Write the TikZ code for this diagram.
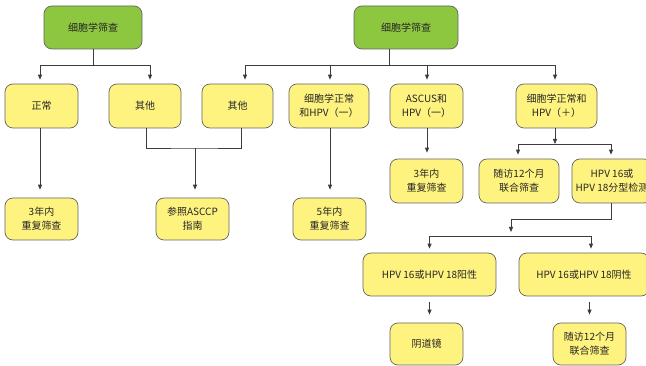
\documentclass[tikz,border=0pt]{standalone}
\usepackage{fontspec}
\setmainfont{Noto Sans CJK SC}
\usetikzlibrary{arrows.meta,calc}
\definecolor{boxgreen}{RGB}{141,198,63}
\definecolor{boxyellow}{RGB}{255,243,128}
\definecolor{edge}{RGB}{100,100,100}
\definecolor{linec}{RGB}{60,60,60}
\tikzset{
  x=1pt,y=-1pt,
  base/.style={draw=edge,line width=0.7pt,rounded corners=8pt,align=center,inner sep=0pt,
    font=\fontsize{10}{14}\selectfont,text=black!85},
  gbox/.style={base,fill=boxgreen},
  ybox/.style={base,fill=boxyellow},
  conn/.style={draw=linec,line width=0.8pt},
  arr/.style={conn,-{Triangle[length=5pt,width=4pt]},shorten >=4pt},
}
\begin{document}
\begin{tikzpicture}
\useasboundingbox[fill=white] (0,0) rectangle (646,366);
% top level
\node[gbox,minimum width=98pt,minimum height=43pt] (g1) at (93,27.5) {细胞学筛查};
\node[gbox,minimum width=104pt,minimum height=43pt] (g2) at (406,27.5) {细胞学筛查};
% row 2
\node[ybox,minimum width=73pt,minimum height=44pt] (n1) at (41.5,106) {正常};
\node[ybox,minimum width=72pt,minimum height=44pt] (n2) at (145,106) {其他};
\node[ybox,minimum width=71pt,minimum height=44pt] (n3) at (237.5,106) {其他};
\node[ybox,minimum width=80pt,minimum height=44pt] (n4) at (329,106) {细胞学正常\\和HPV（一）};
\node[ybox,minimum width=73pt,minimum height=44pt] (n5) at (426.5,106) {ASCUS和\\HPV（一）};
\node[ybox,minimum width=81pt,minimum height=44pt] (n6) at (556.5,106) {细胞学正常和\\HPV（＋）};
% row 3
\node[ybox,minimum width=73pt,minimum height=42pt] (r1) at (41.5,219) {3年内\\重复筛查};
\node[ybox,minimum width=73pt,minimum height=42pt] (r2) at (192.5,219) {参照ASCCP\\指南};
\node[ybox,minimum width=73pt,minimum height=42pt] (r3) at (329.5,219) {5年内\\重复筛查};
\node[ybox,minimum width=73pt,minimum height=44pt] (r4) at (426.5,181) {3年内\\重复筛查};
\node[ybox,minimum width=80pt,minimum height=44pt] (r5) at (519,181) {随访12个月\\联合筛查};
\node[ybox,minimum width=80pt,minimum height=44pt] (r6) at (612,181) {HPV 16或\\HPV 18分型检测};
% row 4
\node[ybox,minimum width=133pt,minimum height=43pt] (p1) at (429.5,274.5) {HPV 16或HPV 18阳性};
\node[ybox,minimum width=130pt,minimum height=43pt] (p2) at (584,274.5) {HPV 16或HPV 18阴性};
% row 5
\node[ybox,minimum width=73pt,minimum height=42pt] (q1) at (426.5,344) {阴道镜};
\node[ybox,minimum width=73pt,minimum height=42pt] (q2) at (589.5,344) {随访12个月\\联合筛查};
% junctions
\coordinate (j1) at (93,65);
\coordinate (j2) at (389,65);
\coordinate (m1) at (195,148);
\coordinate (j3) at (555,144);
\coordinate (k1) at (511,219);
\coordinate (k2) at (511,236);
\coordinate (j4) at (511,236);
% left tree
\draw[conn] (g1.south) -- (j1);
\draw[arr] (j1) -| ([xshift=-1.5pt]n1.north);
\draw[arr] (j1) -| ([xshift=5pt]n2.north);
% right tree
\draw[conn] ([xshift=-17pt]g2.south) -- (j2);
\draw[arr] (j2) -| ([xshift=7.5pt]n3.north);
\draw[arr] (j2) -| ([xshift=1pt]n4.north);
\draw[arr] (j2) -| ([xshift=0.5pt]n5.north);
\draw[arr] (j2) -| ([xshift=-1.5pt]n6.north);
% row 2 -> row 3
\draw[arr,shorten >=8pt] ([xshift=-1.5pt]n1.south) -- ([xshift=-1.5pt]r1.north);
\draw[conn] ([xshift=1pt]n2.south) |- (m1) -| ([xshift=3.5pt]n3.south);
\draw[arr,shorten >=8pt] (m1) -- (m1 |- r2.north);
\draw[arr,shorten >=8pt] ([xshift=1pt]n4.south) -- ([xshift=0.5pt]r3.north);
\draw[arr,shorten >=6pt] ([xshift=0.5pt]n5.south) -- ([xshift=0.5pt]r4.north);
\draw[arr,shorten >=0pt] ([xshift=-1.5pt]n6.south) -- (j3);
\draw[arr] (j3) -| ([xshift=-1pt]r5.north);
\draw[arr] (j3) -| ([xshift=-1pt]r6.north);
% r6 -> row 4
\draw[arr] ([xshift=-1pt]r6.south) |- (k1) -- (k2);
\draw[arr] (j4) -| (p1.north);
\draw[arr] (j4) -| ([xshift=7pt]p2.north);
% row 4 -> row 5
\draw[arr,shorten <=6pt,shorten >=8pt] (p1.south) -- (p1.south |- q1.north);
\draw[arr,shorten <=6pt,shorten >=8pt] (q2.north |- p2.south) -- (q2.north);
\end{tikzpicture}
\end{document}
